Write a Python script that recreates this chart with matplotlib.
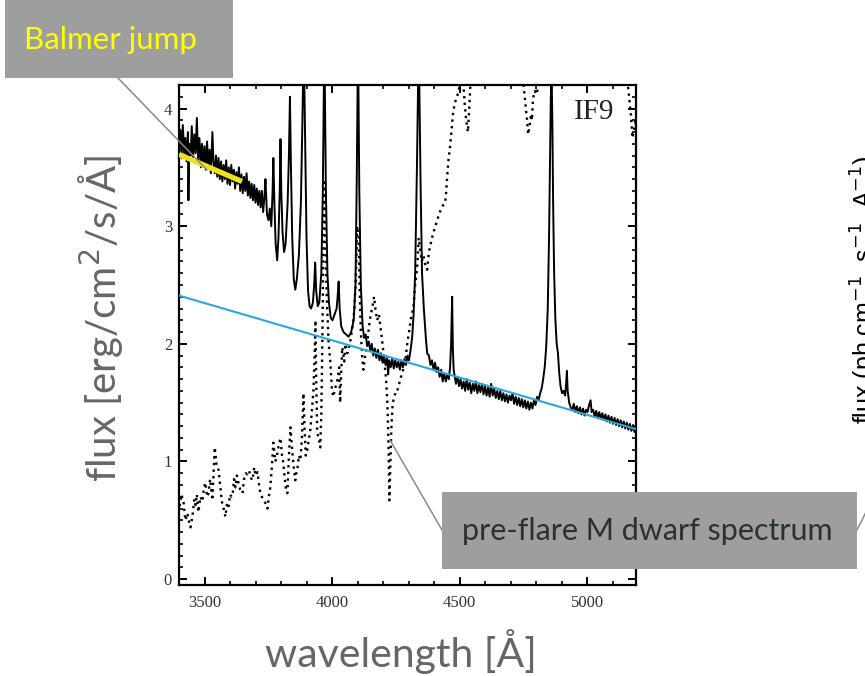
import matplotlib
matplotlib.use("Agg")
import matplotlib.pyplot as plt
from matplotlib.lines import Line2D
from matplotlib.patches import Rectangle

# ---------------- data ----------------
flare_wave = [
    3400, 3405, 3410, 3415, 3420, 3425, 3430, 3435, 3437, 3440, 3446, 3450, 3455, 3460, 3465, 3470,
    3475, 3480, 3486, 3490, 3495, 3500, 3505, 3510, 3515, 3520, 3525, 3531, 3535, 3540, 3545, 3550,
    3555, 3560, 3565, 3570, 3575, 3580, 3585, 3590, 3595, 3600, 3605, 3610, 3615, 3620, 3625, 3630,
    3635, 3640, 3645, 3650, 3655, 3660, 3665, 3670, 3675, 3680, 3685, 3690, 3695, 3700, 3705, 3710,
    3715, 3720, 3725, 3730, 3735, 3739, 3745, 3751, 3756, 3762, 3767, 3770, 3774, 3779, 3785, 3790,
    3795, 3798, 3801, 3806, 3812, 3818, 3826, 3831, 3835, 3839, 3844, 3850, 3856, 3862, 3870, 3878,
    3884, 3889, 3894, 3900, 3906, 3912, 3918, 3925, 3930, 3934, 3938, 3944, 3950, 3958, 3964, 3970,
    3976, 3982, 3988, 3995, 4002, 4010, 4018, 4022, 4026, 4030, 4036, 4045, 4055, 4065, 4075, 4085,
    4092, 4097, 4102, 4107, 4113, 4120, 4126, 4132, 4138, 4144, 4150, 4156, 4162, 4168, 4174, 4180,
    4186, 4192, 4198, 4204, 4210, 4216, 4220, 4224, 4230, 4236, 4242, 4248, 4254, 4260, 4266, 4272,
    4278, 4284, 4290, 4296, 4302, 4308, 4314, 4320, 4326, 4333, 4340, 4347, 4353, 4360, 4368, 4373,
    4380, 4386, 4392, 4398, 4404, 4410, 4416, 4422, 4428, 4434, 4440, 4446, 4452, 4458, 4463, 4467,
    4471, 4474, 4477, 4480, 4486, 4492, 4498, 4504, 4510, 4516, 4522, 4528, 4534, 4540, 4546, 4552,
    4558, 4564, 4570, 4576, 4582, 4588, 4594, 4600, 4606, 4612, 4618, 4624, 4630, 4636, 4642, 4648,
    4654, 4660, 4666, 4672, 4678, 4684, 4690, 4696, 4702, 4708, 4714, 4720, 4726, 4732, 4738, 4744,
    4750, 4756, 4762, 4768, 4774, 4780, 4786, 4792, 4798, 4804, 4810, 4816, 4822, 4828, 4834, 4840,
    4846, 4851, 4855, 4858, 4861, 4864, 4867, 4871, 4876, 4881, 4886, 4891, 4896, 4902, 4908, 4914,
    4918, 4921, 4924, 4930, 4936, 4942, 4948, 4954, 4960, 4966, 4972, 4978, 4984, 4990, 4996, 5002,
    5008, 5014, 5018, 5024, 5030, 5036, 5042, 5048, 5054, 5060, 5066, 5072, 5078, 5084, 5090, 5096,
    5102, 5108, 5114, 5120, 5126, 5132, 5138, 5144, 5150, 5156, 5162, 5168, 5174, 5180, 5186, 5192,
    5198,
]
flare_flux = [
    3.72, 3.82, 3.58, 3.86, 3.62, 3.75, 3.55, 3.80, 3.22, 3.70, 3.60, 3.85, 3.58, 3.78, 3.62, 3.92,
    3.55, 3.75, 3.50, 3.70, 3.52, 3.68, 3.48, 3.72, 3.50, 3.65, 3.45, 3.80, 3.55, 3.45, 3.60, 3.42,
    3.58, 3.40, 3.55, 3.38, 3.52, 3.40, 3.56, 3.36, 3.50, 3.35, 3.52, 3.38, 3.48, 3.32, 3.46, 3.36,
    3.50, 3.30, 3.44, 3.28, 3.42, 3.30, 3.45, 3.26, 3.38, 3.24, 3.36, 3.22, 3.35, 3.20, 3.32, 3.18,
    3.30, 3.16, 3.30, 3.12, 3.25, 3.40, 3.10, 3.05, 3.15, 3.00, 3.30, 3.58, 3.20, 2.85, 2.71, 2.90,
    3.30, 3.74, 3.30, 2.95, 2.78, 2.85, 3.20, 3.60, 4.10, 3.50, 2.90, 2.55, 2.46, 2.55, 2.75, 3.20,
    3.90, 4.60, 3.80, 2.90, 2.45, 2.32, 2.30, 2.35, 2.50, 2.69, 2.45, 2.32, 2.35, 2.60, 3.30, 4.60,
    3.30, 2.60, 2.35, 2.22, 2.20, 2.25, 2.30, 2.40, 2.53, 2.30, 2.15, 2.10, 2.08, 2.06, 2.10, 2.20,
    2.50, 3.40, 4.60, 3.30, 2.50, 2.15, 2.05, 2.08, 1.98, 2.02, 1.94, 2.00, 1.90, 1.96, 1.88, 1.95,
    1.86, 1.92, 1.84, 1.90, 1.82, 1.88, 1.74, 1.86, 1.80, 1.88, 1.79, 1.86, 1.80, 1.85, 1.78, 1.86,
    1.80, 1.87, 1.82, 1.90, 1.86, 1.95, 2.05, 2.25, 2.60, 3.50, 4.60, 3.40, 2.60, 2.30, 2.05, 1.92,
    1.90, 1.82, 1.86, 1.78, 1.84, 1.76, 1.80, 1.72, 1.78, 1.68, 1.75, 1.68, 1.74, 1.70, 1.80, 2.00,
    2.40, 1.95, 1.78, 1.74, 1.66, 1.72, 1.64, 1.70, 1.62, 1.68, 1.60, 1.70, 1.61, 1.67, 1.58, 1.66,
    1.60, 1.68, 1.58, 1.65, 1.59, 1.66, 1.57, 1.64, 1.56, 1.63, 1.55, 1.66, 1.56, 1.62, 1.54, 1.60,
    1.53, 1.60, 1.52, 1.58, 1.51, 1.57, 1.50, 1.56, 1.52, 1.58, 1.49, 1.55, 1.48, 1.54, 1.47, 1.53,
    1.46, 1.52, 1.45, 1.51, 1.44, 1.50, 1.45, 1.52, 1.48, 1.55, 1.52, 1.58, 1.62, 1.70, 1.80, 1.98,
    2.30, 2.90, 3.60, 4.10, 4.30, 3.90, 3.20, 2.60, 2.20, 2.00, 1.92, 1.75, 1.64, 1.58, 1.60, 1.56,
    1.66, 1.77, 1.60, 1.50, 1.46, 1.44, 1.49, 1.42, 1.47, 1.41, 1.46, 1.40, 1.45, 1.39, 1.44, 1.42,
    1.48, 1.52, 1.42, 1.44, 1.38, 1.43, 1.37, 1.42, 1.36, 1.41, 1.35, 1.40, 1.34, 1.39, 1.33, 1.38,
    1.32, 1.37, 1.31, 1.36, 1.30, 1.35, 1.29, 1.34, 1.28, 1.33, 1.27, 1.32, 1.26, 1.31, 1.25, 1.30,
    1.27,
]

dwarf_wave = [
    3402, 3410, 3418, 3425, 3433, 3440, 3445, 3453, 3460, 3465, 3470, 3476, 3484, 3492, 3498, 3504,
    3510, 3516, 3522, 3531, 3535, 3540, 3543, 3548, 3555, 3563, 3568, 3574, 3582, 3588, 3594, 3600,
    3606, 3610, 3616, 3621, 3627, 3633, 3640, 3649, 3655, 3662, 3668, 3675, 3682, 3688, 3695, 3700,
    3708, 3714, 3719, 3725, 3731, 3738, 3747, 3752, 3758, 3764, 3770, 3778, 3786, 3792, 3798, 3804,
    3809, 3815, 3820, 3825, 3830, 3837, 3845, 3850, 3856, 3860, 3864, 3870, 3876, 3882, 3888, 3892,
    3897, 3903, 3910, 3915, 3920, 3927, 3932, 3935, 3938, 3942, 3948, 3954, 3958, 3962, 3966, 3970,
    3975, 3980, 3987, 3993, 4000, 4005, 4012, 4021, 4028, 4032, 4036, 4040, 4048, 4052, 4060, 4070,
    4080, 4088, 4094, 4099, 4104, 4108, 4113, 4118, 4123, 4130, 4138, 4145, 4152, 4158, 4165, 4170,
    4177, 4184, 4190, 4198, 4205, 4212, 4217, 4221, 4225, 4229, 4233, 4238, 4245, 4250, 4256, 4262,
    4268, 4274, 4279, 4287, 4295, 4305, 4312, 4319, 4326, 4334, 4340, 4346, 4352, 4358, 4365, 4373,
    4380, 4385, 4392, 4397, 4405, 4412, 4420, 4428, 4436, 4444, 4448, 4451, 4456, 4463, 4470, 4475,
    4482, 4490, 4497, 4505, 4514, 4520, 4526, 4533, 4538, 4545, 4560, 4600, 4650, 4700, 4740, 4755,
    4760, 4765, 4769, 4775, 4780, 4784, 4788, 4795, 4802, 4808, 4815, 4850, 4950, 5050, 5150, 5165,
    5172, 5178, 5184, 5190, 5196,
]
dwarf_flux = [
    0.62, 0.72, 0.65, 0.50, 0.56, 0.48, 0.44, 0.54, 0.68, 0.63, 0.72, 0.57, 0.70, 0.66, 0.78, 0.82,
    0.70, 0.73, 0.85, 0.67, 0.87, 1.12, 1.07, 0.95, 0.93, 0.76, 0.66, 0.61, 0.53, 0.64, 0.61, 0.72,
    0.70, 0.71, 0.85, 0.78, 0.88, 0.82, 0.76, 0.73, 0.85, 0.90, 0.89, 0.92, 0.86, 0.84, 0.95, 0.88,
    0.91, 0.80, 0.73, 0.70, 0.67, 0.65, 0.60, 0.70, 0.78, 0.95, 1.16, 1.00, 1.07, 1.15, 1.20, 1.05,
    0.99, 0.85, 0.75, 0.73, 1.00, 1.29, 1.07, 0.95, 0.84, 0.90, 0.93, 1.05, 1.01, 1.20, 1.58, 1.30,
    1.05, 1.10, 1.20, 1.27, 1.40, 1.60, 1.90, 2.20, 1.70, 1.24, 1.20, 1.12, 1.40, 2.00, 2.80, 3.40,
    2.80, 2.35, 2.00, 1.86, 1.60, 1.55, 1.62, 1.69, 1.80, 1.50, 1.75, 1.97, 1.85, 2.00, 1.92, 2.00,
    2.14, 2.30, 2.60, 3.00, 2.90, 2.50, 2.10, 1.90, 1.78, 1.90, 2.00, 2.15, 2.25, 2.31, 2.40, 2.30,
    2.20, 2.25, 2.14, 2.00, 1.85, 1.70, 1.50, 1.20, 0.67, 1.00, 1.30, 1.50, 1.55, 1.60, 1.60, 1.65,
    1.70, 1.75, 1.78, 1.85, 2.00, 2.15, 2.25, 2.30, 2.50, 2.65, 2.90, 2.80, 2.70, 2.75, 2.68, 2.63,
    2.78, 2.83, 2.90, 2.94, 3.00, 3.05, 3.10, 3.15, 3.18, 3.20, 3.30, 3.40, 3.55, 3.68, 3.85, 3.97,
    4.05, 4.10, 4.15, 4.30, 4.25, 4.05, 3.90, 3.80, 4.00, 4.30, 4.50, 4.60, 4.70, 4.60, 4.40, 4.12,
    4.00, 3.90, 3.78, 3.85, 3.95, 3.90, 4.08, 4.15, 4.12, 4.18, 4.35, 4.60, 4.70, 4.60, 4.40, 4.10,
    3.95, 3.75, 3.82, 3.90, 3.78,
]

balmer_fit_wave = [3400, 3647]
balmer_fit_flux = [3.61, 3.38]
continuum_wave = [3400, 5200]
continuum_flux = [2.41, 1.27]

x_ticks = [3500, 4000, 4500, 5000]
y_ticks = [0, 1, 2, 3, 4]

# ---------------- figure ----------------
W, H = 865, 676
fig = plt.figure(figsize=(W / 100, H / 100), dpi=100)
fig.patch.set_facecolor("white")

def fx(px):
    return px / W

def fy(py):
    return 1 - py / H

ax = fig.add_axes([fx(179), fy(585), fx(636) - fx(179), fy(85) - fy(585)])
ax.set_xlim(3400, 5192)
ax.set_ylim(-0.05, 4.2)

ax.plot(dwarf_wave, dwarf_flux, color="black", lw=1.7, linestyle=(0, (1, 1.8)), zorder=2)
ax.plot(flare_wave, flare_flux, color="black", lw=1.4, zorder=3)
ax.plot(continuum_wave, continuum_flux, color="#2aa8dc", lw=1.5, zorder=4)
ax.plot(balmer_fit_wave, balmer_fit_flux, color="#efe21c", lw=3.8, solid_capstyle="butt", zorder=5)

ax.set_xticks(x_ticks)
ax.set_yticks(y_ticks)
ax.set_xticks(range(3400, 5200, 100), minor=True)
ax.set_yticks([i / 10 for i in range(0, 43)], minor=True)
ax.tick_params(which="both", direction="in", top=True, right=True, colors="black")
ax.tick_params(which="major", length=6, width=1.4)
ax.tick_params(which="minor", length=3.2, width=1.2)
ax.tick_params(axis="x", pad=7)
ax.tick_params(axis="y", pad=5)
for lab in ax.get_xticklabels() + ax.get_yticklabels():
    lab.set_fontfamily("Liberation Serif")
    lab.set_fontsize(12)
    lab.set_color("#333333")
for sp in ax.spines.values():
    sp.set_linewidth(1.6)

ax.text(0.953, 0.972, "IF9", transform=ax.transAxes, ha="right", va="top",
        fontfamily="Liberation Serif", fontsize=21, color="#222222")

# slide labels
slide_font = "Lato"
fig.text(fx(101), fy(318), "flux [erg/cm$^2$/s/Å]", rotation=90, ha="center", va="center",
         fontsize=29, color="#666666", fontfamily=slide_font)
fig.text(fx(401), fy(652), "wavelength [Å]", ha="center", va="center",
         fontsize=29.5, color="#666666", fontfamily=slide_font)

# cut-off label of a neighbouring plot (cut by the right edge, as in the slide)
fig.text(fx(849), fy(290), "flux (ph cm$^{-1}$  s$^{-1}$  A$^{-1}$)", rotation=90,
         ha="left", va="center", fontsize=18, color="black", fontfamily="Liberation Sans")

# annotation lines
for (x0, y0, x1, y1) in [(118, 78, 207, 170), (442, 530, 390, 440), (857, 530, 866, 512)]:
    fig.add_artist(Line2D([fx(x0), fx(x1)], [fy(y0), fy(y1)], transform=fig.transFigure,
                          color="#8a8a8a", lw=1.1, zorder=6))

# boxes
fig.add_artist(Rectangle((fx(5), fy(78)), fx(233) - fx(5), fy(0) - fy(78), transform=fig.transFigure,
                         facecolor="#9e9e9e", edgecolor="none", zorder=7))
fig.text(fx(110), fy(40), "Balmer jump", ha="center", va="center", fontsize=22.5,
         color="#ffff00", fontfamily=slide_font, zorder=8)

fig.add_artist(Rectangle((fx(442), fy(569)), fx(857) - fx(442), fy(492) - fy(569), transform=fig.transFigure,
                         facecolor="#9e9e9e", edgecolor="none", zorder=7))
fig.text(fx(647), fy(531), "pre-flare M dwarf spectrum", ha="center", va="center", fontsize=22,
         color="#2b3033", fontfamily=slide_font, zorder=8)

fig.savefig("out.png", dpi=100, facecolor="white")
